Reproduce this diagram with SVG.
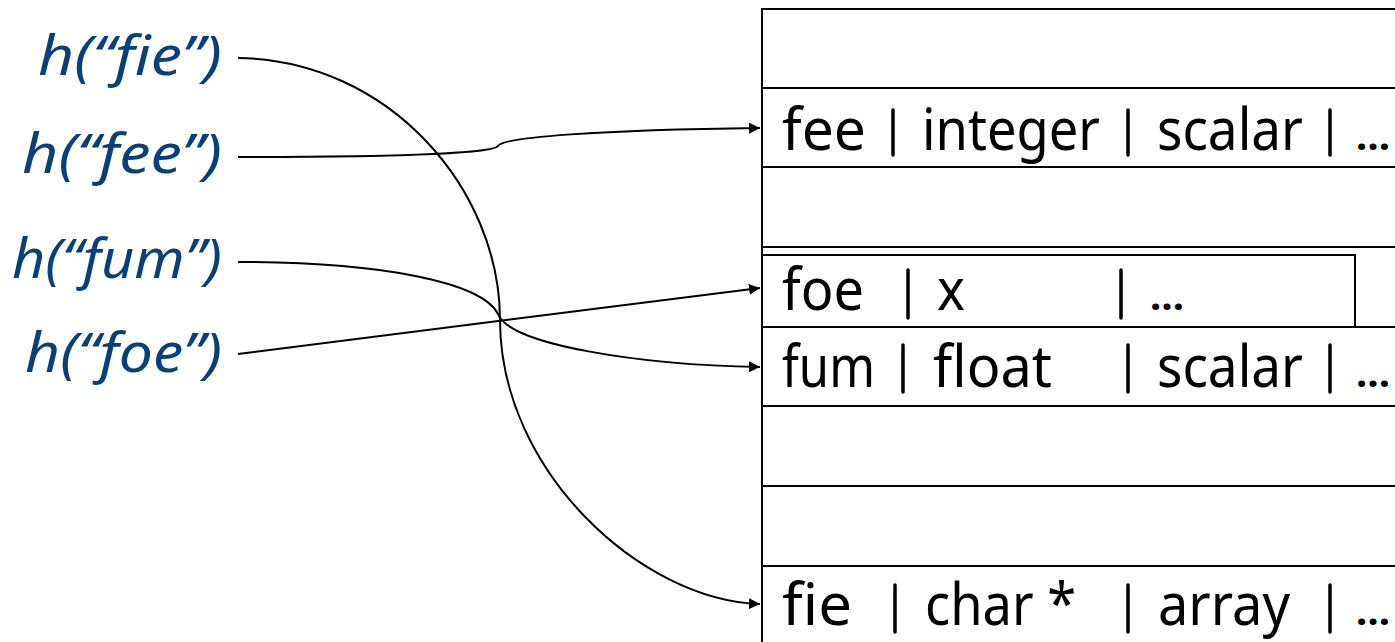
<svg xmlns="http://www.w3.org/2000/svg" width="1395" height="642" viewBox="0 0 1395 642">
  <style>
    .key { font-family: "Noto Sans", "DejaVu Sans", sans-serif; font-style: italic; font-size: 55px; fill: #0b3f7a; }
    .cell { font-family: "Noto Sans", "DejaVu Sans", sans-serif; font-size: 58px; fill: #000; }
    .more { font-family: "Noto Sans", "DejaVu Sans", sans-serif; font-size: 40px; fill: #000; font-weight: bold; }
    .bar { stroke: #000; stroke-width: 3.5; stroke-linecap: round; }
    .rule { stroke: #000; stroke-width: 2; fill: none; }
    .link { stroke: #000; stroke-width: 2; fill: none; marker-end: url(#head); }
  </style>
  <defs>
    <marker id="head" viewBox="0 0 10 10" refX="10" refY="5" markerWidth="5.5" markerHeight="5.5" orient="auto" markerUnits="strokeWidth">
      <path d="M0,0 L10,5 L0,10 z" fill="#000"/>
    </marker>
  </defs>

  <rect width="1395" height="642" fill="#fff"/>

  <!-- hash keys -->
  <g id="key-fie"><text class="key" x="38" y="75" textLength="184" lengthAdjust="spacingAndGlyphs">h(“fie”)</text></g>
  <g id="key-fee"><text class="key" x="22" y="173" textLength="200" lengthAdjust="spacingAndGlyphs">h(“fee”)</text></g>
  <g id="key-fum"><text class="key" x="12" y="278" textLength="210" lengthAdjust="spacingAndGlyphs">h(“fum”)</text></g>
  <g id="key-foe"><text class="key" x="25" y="372" textLength="197" lengthAdjust="spacingAndGlyphs">h(“foe”)</text></g>

  <!-- symbol table -->
  <g id="table">
    <path class="rule" d="M762,642 V9 H1395"/>
    <path class="rule" d="M762,88 H1395 M762,167 H1395 M762,247 H1395 M762,327 H1395 M762,406 H1395 M762,486 H1395 M762,566 H1395"/>
  </g>

  <g id="row-fee">
    <text class="cell" y="150"><tspan x="782" textLength="84" lengthAdjust="spacingAndGlyphs">fee</tspan><tspan x="922" textLength="178" lengthAdjust="spacingAndGlyphs">integer</tspan><tspan x="1157" textLength="146" lengthAdjust="spacingAndGlyphs">scalar</tspan></text>
    <text class="more" x="1356" y="150">…</text>
    <path class="bar" d="M893,110 V155 M1128,110 V155 M1330,110 V155"/>
  </g>
  <g id="row-foe">
    <rect class="rule" x="762" y="255" width="593" height="72"/>
    <text class="cell" y="310"><tspan x="782" textLength="82" lengthAdjust="spacingAndGlyphs">foe</tspan><tspan x="937" textLength="28" lengthAdjust="spacingAndGlyphs">x</tspan></text>
    <text class="more" x="1150" y="310">…</text>
    <path class="bar" d="M908,270 V318 M1121,270 V318"/>
  </g>
  <g id="row-fum">
    <text class="cell" y="387"><tspan x="782" textLength="93" lengthAdjust="spacingAndGlyphs">fum</tspan><tspan x="933" textLength="119" lengthAdjust="spacingAndGlyphs">float</tspan><tspan x="1157" textLength="146" lengthAdjust="spacingAndGlyphs">scalar</tspan></text>
    <text class="more" x="1356" y="387">…</text>
    <path class="bar" d="M903,345 V392 M1128,345 V392 M1330,345 V392"/>
  </g>
  <g id="row-fie">
    <text class="cell" y="625"><tspan x="782" textLength="70" lengthAdjust="spacingAndGlyphs">fie</tspan><tspan x="925" textLength="151" lengthAdjust="spacingAndGlyphs">char *</tspan><tspan x="1158" textLength="132" lengthAdjust="spacingAndGlyphs">array</tspan></text>
    <text class="more" x="1356" y="625">…</text>
    <path class="bar" d="M895,585 V632 M1128,585 V632 M1330,585 V632"/>
  </g>

  <!-- hash links -->
  <g id="connectors">
    <path class="link" d="M238,58 C390,60 500,190 500,320 C500,470 640,600 760,604"/>
    <path class="link" d="M238,157 C400,157 494,153 498,146 C503,137 600,130 760,128"/>
    <path class="link" d="M238,262 C380,262 482,282 498,314 C510,345 640,365 760,367"/>
    <path class="link" d="M238,354 L760,288"/>
  </g>
</svg>
